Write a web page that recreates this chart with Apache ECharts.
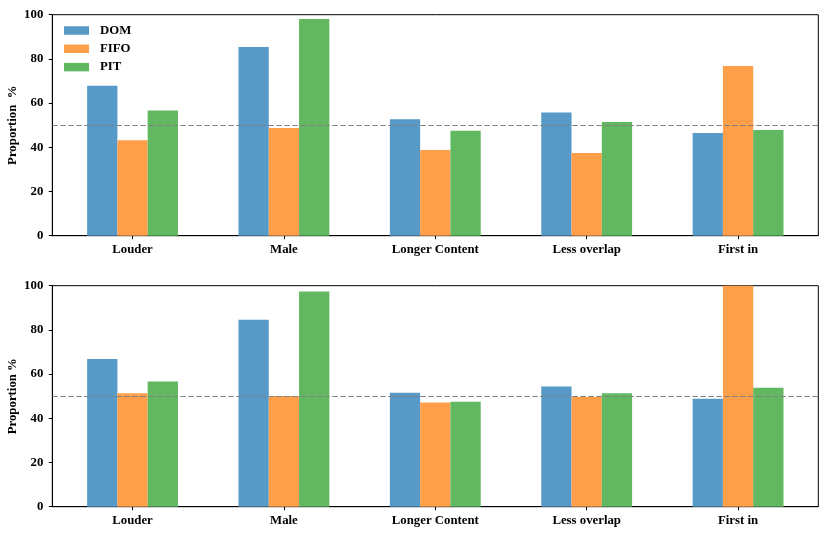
<!DOCTYPE html>
<html>
<head>
<meta charset="utf-8">
<script src="https://cdn.jsdelivr.net/npm/echarts@6/dist/echarts.min.js"></script>
<style>html,body{margin:0;padding:0;background:#fff}#c{width:831px;height:535px}</style>
</head>
<body>
<div id="c"></div>
<script>
const categories = ['Louder', 'Male', 'Longer Content', 'Less overlap', 'First in'];
const seriesNames = ['DOM', 'FIFO', 'PIT'];
const topDOM  = [67.9, 85.4, 52.7, 55.7, 46.5];
const topFIFO = [43.2, 48.7, 38.8, 37.4, 76.8];
const topPIT  = [56.6, 98.0, 47.5, 51.4, 47.8];
const botDOM  = [66.8, 84.6, 51.6, 54.4, 48.9];
const botFIFO = [51.3, 50.1, 47.2, 49.6, 100.0];
const botPIT  = [56.7, 97.4, 47.5, 51.3, 53.8];
const yTicks = [0, 20, 40, 60, 80, 100];
const refLine = 50;

const colors = ['#5799c7', '#ff9f4a', '#61b861'];
const font = 'Liberation Serif';
const lbl = {fontFamily: font, fontWeight: 'bold', fontSize: 12.8, color: '#000'};

function xAx(gi) {
  return {
    type: 'value', gridIndex: gi, min: -0.53, max: 4.53,
    splitLine: {show: false},
    axisLine: {show: true, onZero: false, lineStyle: {color: '#000', width: 1}},
    axisTick: {show: true, length: 3.5, lineStyle: {color: '#000'}, customValues: categories.map((c, i) => i)},
    axisLabel: Object.assign({margin: 7, customValues: categories.map((c, i) => i), formatter: v => categories[Math.round(v)]}, lbl)
  };
}
function yAx(gi, name) {
  return {
    type: 'value', gridIndex: gi, min: 0, max: 100, interval: 20,
    name: name, nameLocation: 'middle', nameGap: 33, nameRotate: 90, nameMoveOverlap: false,
    nameTextStyle: lbl,
    splitLine: {show: false},
    axisLine: {show: true, onZero: false, lineStyle: {color: '#000', width: 1}},
    axisTick: {show: true, length: 3.5, lineStyle: {color: '#000'}},
    axisLabel: Object.assign({margin: 9}, lbl)
  };
}
function bars(gi, arrs) {
  return arrs.map((arr, k) => {
    const s = {
      name: seriesNames[k], type: 'bar', xAxisIndex: gi, yAxisIndex: gi,
      barWidth: '20%', barGap: '0%',
      itemStyle: {color: colors[k]},
      data: arr.map((v, i) => [i, v]),
      z: 2
    };
    if (k === 0) {
      s.markLine = {
        silent: true, symbol: 'none', label: {show: false},
        lineStyle: {color: '#808080', type: [5.5, 2.5], width: 1.2},
        data: [{yAxis: refLine}], z: 5
      };
    }
    return s;
  });
}

const chart = echarts.init(document.getElementById('c'), null, {renderer: 'canvas'});
chart.setOption({
  animation: false,
  backgroundColor: '#fff',
  color: colors,
  grid: [
    {left: 52.3, right: 12.7, top: 14.7, height: 221, show: true, borderColor: '#000', borderWidth: 1, containLabel: false, outerBoundsMode: 'none'},
    {left: 52.3, right: 12.7, top: 285.7, height: 221, show: true, borderColor: '#000', borderWidth: 1, containLabel: false, outerBoundsMode: 'none'}
  ],
  legend: {
    data: seriesNames, orient: 'vertical', left: 64, top: 24, padding: 0,
    itemWidth: 25, itemHeight: 8.5, itemGap: 5.3, icon: 'rect',
    textStyle: Object.assign({padding: [0, 0, 0, 6]}, lbl)
  },
  xAxis: [xAx(0), xAx(1)],
  yAxis: [yAx(0, 'Proportion  %'), yAx(1, 'Proportion %')],
  series: bars(0, [topDOM, topFIFO, topPIT]).concat(bars(1, [botDOM, botFIFO, botPIT]))
});
</script>
</body>
</html>
